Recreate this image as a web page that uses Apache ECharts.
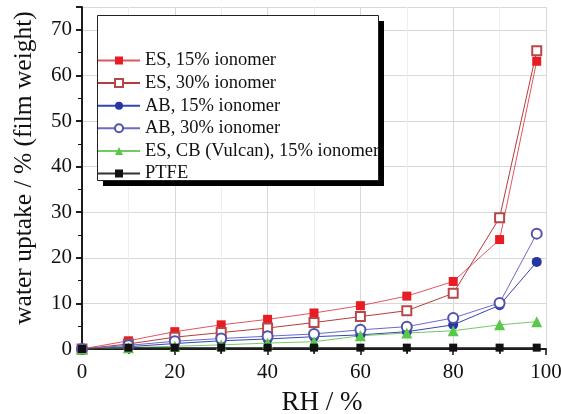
<!DOCTYPE html>
<html>
<head>
<meta charset="utf-8">
<script src="https://cdn.jsdelivr.net/npm/echarts@6/dist/echarts.min.js"></script>
<style>
  html, body { margin: 0; padding: 0; background: #fff; }
  #chart { width: 561px; height: 414px; }
</style>
</head>
<body>
<div id="chart"></div>
<script>
// RH values (%)
const rh = [0, 10, 20, 30, 40, 50, 60, 70, 80, 90, 98]

// water uptake, % film weight
const es15 = [0, 1.8, 3.8, 5.3, 6.5, 7.9, 9.5, 11.6, 14.8, 24.0, 63.1]
const es30 = [0, 1.1, 2.6, 3.6, 4.6, 5.8, 7.1, 8.4, 12.2, 28.8, 65.4]
const ab15 = [0, 0.5, 1.2, 1.8, 2.2, 2.7, 3.1, 3.8, 5.3, 9.6, 19.1]
const ab30 = [0, 0.8, 1.7, 2.3, 2.8, 3.3, 4.2, 4.9, 6.8, 10.1, 25.3]
const esCb = [0, 0.3, 0.6, 0.9, 1.3, 1.6, 2.9, 3.5, 4.0, 5.3, 6.0]
const ptfe = [0, 0.3, 0.3, 0.3, 0.3, 0.3, 0.3, 0.3, 0.3, 0.3, 0.3]

const names = [
  'ES, 15% ionomer',
  'ES, 30% ionomer',
  'AB, 15% ionomer',
  'AB, 30% ionomer',
  'ES, CB (Vulcan), 15% ionomer',
  'PTFE',
]

const font = '"Liberation Serif", "Times New Roman", serif'

const pairs = (ys) => rh.map((x, i) => [x, ys[i]])

function line(name, ys, symbol, size, markColor, lineColor) {
  return {
    name,
    type: 'line',
    data: pairs(ys),
    symbol,
    symbolSize: size,
    showSymbol: true,
    itemStyle: { color: markColor, borderWidth: 1 },
    lineStyle: { color: lineColor, width: 1 },
    emphasis: { disabled: true },
    z: 3,
  }
}

const axisBlack = { lineStyle: { color: '#111', width: 1.5 } }

const option = {
  animation: false,
  backgroundColor: '#fff',
  textStyle: { fontFamily: font },
  grid: { left: 82, right: 15, top: 7, bottom: 65, outerBoundsMode: 'none', containLabel: false },
  // legend frame with its drop shadow
  graphic: [
    {
      type: 'rect',
      left: 103, top: 21, z: 50,
      shape: { width: 281, height: 165 },
      style: { fill: '#000' },
    },
    {
      type: 'rect',
      left: 97, top: 15, z: 51,
      shape: { width: 281, height: 165 },
      style: { fill: '#fff', stroke: '#222', lineWidth: 1 },
    },
  ],
  legend: {
    left: 97,
    top: 15,
    z: 60,
    orient: 'vertical',
    data: names,
    padding: [35, 4, 4, 0],
    itemGap: 1.6,
    itemWidth: 42,
    itemHeight: 10,
    textStyle: { fontFamily: font, fontSize: 18.5, color: '#111', lineHeight: 21 },
  },
  xAxis: [
    {
      type: 'value',
      min: 0,
      max: 100,
      interval: 20,
      name: 'RH / %',
      nameLocation: 'middle',
      nameGap: 40,
      nameTextStyle: { fontFamily: font, fontSize: 27, color: '#111', padding: [0, 0, 0, 16] },
      axisLine: axisBlack,
      axisTick: { show: true, length: 5, lineStyle: { color: '#111', width: 1.5 } },
      minorTick: { show: true, splitNumber: 2, length: 5, lineStyle: { color: '#111', width: 1.5 } },
      axisLabel: { fontFamily: font, fontSize: 21, color: '#111', margin: 13 },
      splitLine: { show: true, lineStyle: { color: '#d8d8d8', width: 1 } },
      minorSplitLine: { show: true, lineStyle: { color: '#eeeeee', width: 1 } },
    },
    {
      type: 'value',
      position: 'top',
      min: 0,
      max: 100,
      interval: 20,
      axisLine: axisBlack,
      axisTick: { show: true, inside: true, length: 6, lineStyle: { color: '#111', width: 1.5 } },
      minorTick: { show: true, splitNumber: 2, length: 4, lineStyle: { color: '#111' } },
      axisLabel: { show: false },
      splitLine: { show: false },
    },
  ],
  yAxis: [
    {
      type: 'value',
      min: 0,
      max: 75,
      interval: 10,
      name: 'water uptake / % (film weight)',
      nameLocation: 'middle',
      nameGap: 45,
      nameTextStyle: { fontFamily: font, fontSize: 25.5, color: '#111', padding: [0, 0, 0, 20] },
      axisLine: { show: true, lineStyle: { color: '#111', width: 1.5 } },
      axisTick: { show: true, length: 6, lineStyle: { color: '#111', width: 1.5 } },
      minorTick: { show: true, splitNumber: 2, length: 4, lineStyle: { color: '#111' } },
      axisLabel: { fontFamily: font, fontSize: 21, color: '#111', margin: 10, showMaxLabel: false },
      splitLine: { show: true, lineStyle: { color: '#d8d8d8', width: 1 } },
    },
    {
      type: 'value',
      position: 'right',
      min: 0,
      max: 75,
      interval: 10,
      axisLine: { show: true, lineStyle: { color: '#111', width: 1.5 } },
      axisTick: { show: true, inside: true, length: 6, lineStyle: { color: '#111', width: 1.5 } },
      minorTick: { show: true, splitNumber: 2, length: 4, lineStyle: { color: '#111' } },
      axisLabel: { show: false },
      splitLine: { show: false },
    },
  ],
  series: [
    line(names[0], es15, 'rect', 9, '#e61e24', '#e25560'),
    line(names[1], es30, 'emptyRect', 9, '#b84848', '#b83a3a'),
    line(names[2], ab15, 'circle', 10, '#2535a5', '#3545b0'),
    line(names[3], ab30, 'emptyCircle', 10, '#5252a8', '#6a6ac8'),
    line(names[4], esCb, 'triangle', 11, '#58c848', '#70cc60'),
    line(names[5], ptfe, 'rect', 8, '#111', '#333'),
  ],
}

const chart = echarts.init(document.getElementById('chart'))
chart.setOption(option)
</script>
</body>
</html>
